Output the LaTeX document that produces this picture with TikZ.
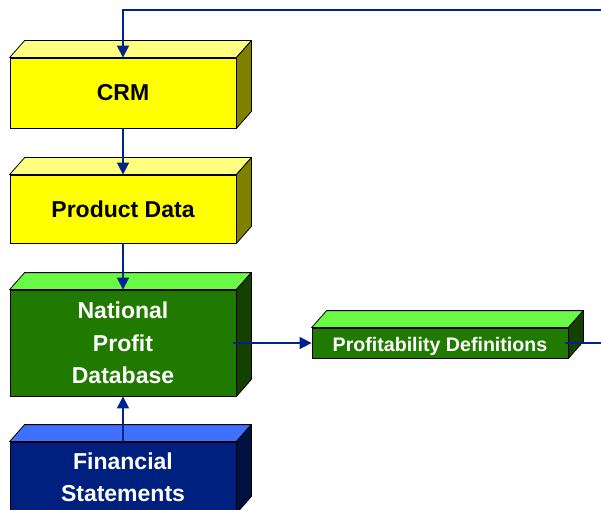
\documentclass[tikz,border=0pt]{standalone}
\usepackage{fontspec}
\setmainfont{Liberation Sans}
\usetikzlibrary{arrows.meta}
\definecolor{lineblue}{RGB}{0,36,140}
\definecolor{yfront}{RGB}{255,255,0}
\definecolor{ytop}{RGB}{255,255,128}
\definecolor{yside}{RGB}{128,128,0}
\definecolor{gfront}{RGB}{33,122,0}
\definecolor{gtop}{RGB}{104,250,68}
\definecolor{gside}{RGB}{20,64,0}
\definecolor{bfront}{RGB}{0,32,128}
\definecolor{btop}{RGB}{64,112,255}
\definecolor{bside}{RGB}{0,16,64}
\newcommand\boxfaces[3]{%
  \draw[face, fill=#2] (#1.north west) -- ++(15,-17) -- ([shift={(15,-17)}]#1.north east) -- (#1.north east) -- cycle;
  \draw[face, fill=#3] (#1.north east) -- ++(15,-17) -- ([shift={(15,-17)}]#1.south east) -- (#1.south east) -- cycle;}
\tikzset{
  face/.style={draw=black, line width=0.8pt, line join=round},
  frontbox/.style={draw=black, line width=0.8pt, inner sep=0pt, minimum width=226pt, align=center,
    font=\bfseries\fontsize{23}{32.5}\selectfont},
  conn/.style={draw=lineblue, line width=1.6pt},
  arr/.style={conn, -{Triangle[width=12pt,length=12pt]}}
}
\begin{document}
\begin{tikzpicture}[x=1pt,y=-1pt]
\useasboundingbox (0,0) rectangle (601,510);
\clip (0,0) rectangle (601,510);
\node[frontbox, fill=yfront, minimum height=70pt] (crm) at (123,93) {CRM};
\boxfaces{crm}{ytop}{yside}
\node[frontbox, fill=yfront, minimum height=68pt] (prod) at (123,209) {Product Data};
\boxfaces{prod}{ytop}{yside}
\node[frontbox, fill=gfront, text=white, minimum height=106pt] (npd) at (123,343) {National\\Profit\\Database};
\boxfaces{npd}{gtop}{gside}
\node[frontbox, fill=bfront, text=white, minimum height=71pt] (fs) at (123,477.5) {Financial\\Statements};
\boxfaces{fs}{btop}{bside}
\node[frontbox, fill=gfront, text=white, minimum width=256pt, minimum height=30pt,
  font=\bfseries\fontsize{19.6}{22}\selectfont] (prof) at (440,343) {\raisebox{-3.5pt}[\height][\depth]{Profitability Definitions}};
\boxfaces{prof}{gtop}{gside}
\coordinate (farright) at (640,343);
\coordinate (farcorner) at (640,10);
\draw[arr] (crm.south) -- (prod.north);
\draw[arr] (prod.south) -- (npd.north);
\draw[arr] (fs.north) -- (npd.south);
\draw[arr] ([xshift=-3pt]npd.east) -- (prof.west);
\draw[arr] ([xshift=-3pt]prof.east) -- (farright) -- (farcorner) -| (crm.north);
\end{tikzpicture}
\end{document}
